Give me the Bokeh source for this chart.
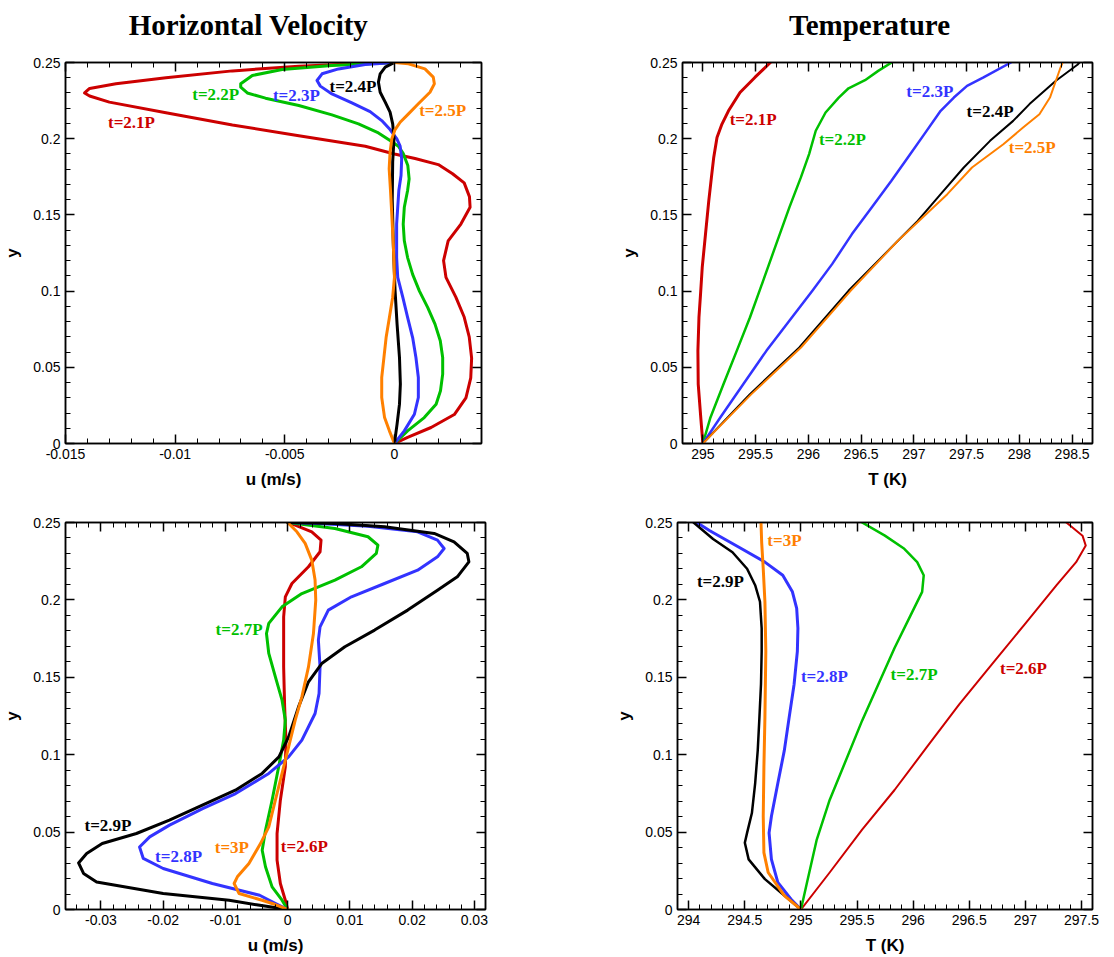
from bokeh.plotting import figure
from bokeh.layouts import column, row
from bokeh.models import (Range1d, LinearAxis, SingleIntervalTicker, CustomJSTickFormatter,
                          CustomLabelingPolicy)
from bokeh.core.properties import value
from bokeh.embed import file_html
from bokeh.resources import INLINE

RED, GREEN, BLUE, BLACK, ORANGE = "#cc0000", "#00c000", "#3333ff", "#000000", "#ff8000"

panel_titles = ["Horizontal Velocity", "Temperature"]

# ---------------- Horizontal velocity, t = 2.1P ... 2.5P ----------------
v21_y = [0, 0.004, 0.0105, 0.019, 0.03, 0.043, 0.056, 0.07, 0.083, 0.096, 0.109, 0.12, 0.133, 0.144,
         0.155, 0.162, 0.171, 0.177, 0.183, 0.187, 0.19, 0.195, 0.202, 0.209, 0.217, 0.224, 0.228, 0.230,
         0.233, 0.236, 0.240, 0.2445, 0.2476, 0.2491, 0.25]
v21_u = [0, 0.0006, 0.00167, 0.00273, 0.00326, 0.00348, 0.00352, 0.00341, 0.00318, 0.0028, 0.00235, 0.00224,
         0.00245, 0.00303, 0.00345, 0.00342, 0.00318, 0.00265, 0.002, 0.00094, 0, -0.00133, -0.00436, -0.00739,
         -0.01042, -0.013, -0.0139, -0.01413, -0.0139, -0.0127, -0.01042, -0.00739, -0.00436, -0.00179, 0]
v22_y = [0, 0.0083, 0.017, 0.0258, 0.0346, 0.0455, 0.0564, 0.0674, 0.0783, 0.0892, 0.1, 0.111, 0.122, 0.133,
         0.144, 0.155, 0.166, 0.1736, 0.1824, 0.19, 0.1951, 0.1988, 0.2038, 0.2097, 0.2156, 0.2218, 0.2266,
         0.23, 0.2338, 0.236, 0.2415, 0.2454, 0.248, 0.25]
v22_u = [0, 0.0006, 0.00136, 0.0019, 0.0021, 0.0022, 0.0022, 0.00209, 0.00185, 0.00152, 0.00114, 0.00083,
         0.0006, 0.00045, 0.0004, 0.00045, 0.0006, 0.00067, 0.00061, 0.00041, 0.00018, -0.0002, -0.00073,
         -0.00164, -0.00285, -0.00436, -0.00588, -0.00671, -0.00701, -0.00701, -0.00648, -0.00512, -0.00285, 0]
v23_y = [0, 0.0083, 0.0192, 0.0302, 0.0433, 0.0564, 0.0695, 0.0827, 0.096, 0.109, 0.122, 0.144, 0.166,
         0.1758, 0.1868, 0.1951, 0.1999, 0.206, 0.2119, 0.2178, 0.2235, 0.2294, 0.2345, 0.2382, 0.2426,
         0.2458, 0.2487, 0.25]
v23_u = [0, 0.00045, 0.00091, 0.00109, 0.00109, 0.00098, 0.00083, 0.0006, 0.00038, 0.00015, 0.0001, 0.0001,
         0.0002, 0.0003, 0.00033, 0.00026, 0.00011, -0.0002, -0.00058, -0.00111, -0.00194, -0.00285, -0.00338,
         -0.00353, -0.0033, -0.00255, -0.00133, 0]
v24_y = [0, 0.0127, 0.0258, 0.039, 0.0564, 0.0783, 0.1, 0.13, 0.16, 0.185, 0.2, 0.2097, 0.2174, 0.224,
         0.2305, 0.2371, 0.2426, 0.247, 0.25]
v24_u = [0, 0.00012, 0.00023, 0.00027, 0.00023, 0.00012, 0.00003, -0.00005, -0.0001, -0.00008, -0.00002,
         -0.00008, -0.0002, -0.00042, -0.00065, -0.00073, -0.00065, -0.00042, 0]
v25_y = [0, 0.0083, 0.017, 0.0302, 0.0433, 0.0564, 0.0695, 0.0827, 0.096, 0.109, 0.13, 0.15, 0.166, 0.1802,
         0.1911, 0.2, 0.206, 0.2108, 0.2163, 0.2229, 0.2305, 0.236, 0.2404, 0.2458, 0.2491, 0.25]
v25_u = [0, -0.00023, -0.00045, -0.00058, -0.00058, -0.00048, -0.00038, -0.00023, -0.00008, 0, -0.00005,
         -0.00012, -0.00018, -0.00024, -0.0002, -0.00012, 0.00003, 0.00026, 0.00064, 0.00109, 0.00162,
         0.00182, 0.00177, 0.00139, 0.00064, 0]

# ---------------- Temperature, t = 2.1P ... 2.5P ----------------
t21_y = [0, 0.0171, 0.039, 0.0608, 0.0827, 0.098, 0.1155, 0.1374, 0.1592, 0.1746, 0.1877, 0.2008, 0.2096,
         0.2183, 0.2303, 0.2402, 0.25]
t21_T = [295, 294.98, 294.956, 294.953, 294.963, 294.978, 294.994, 295.025, 295.056, 295.081, 295.103,
         295.134, 295.181, 295.243, 295.352, 295.493, 295.64]
t22_y = [0, 0.0171, 0.039, 0.0608, 0.0827, 0.1067, 0.1308, 0.1549, 0.1746, 0.1899, 0.2052, 0.2172, 0.227,
         0.2331, 0.2384, 0.2445, 0.25]
t22_T = [295, 295.072, 295.196, 295.321, 295.446, 295.571, 295.695, 295.82, 295.929, 296.007, 296.07,
         296.163, 296.288, 296.381, 296.537, 296.662, 296.79]
t23_y = [0, 0.0171, 0.039, 0.0608, 0.0805, 0.1002, 0.1177, 0.1374, 0.1549, 0.1724, 0.1877, 0.203, 0.2183,
         0.227, 0.2347, 0.2402, 0.25]
t23_T = [295, 295.165, 295.384, 295.602, 295.82, 296.038, 296.225, 296.413, 296.6, 296.787, 296.943,
         297.099, 297.254, 297.379, 297.504, 297.66, 297.92]
t24_y = [0, 0.0324, 0.063, 0.1002, 0.133, 0.1461, 0.1636, 0.1811, 0.1986, 0.2117, 0.2227, 0.238, 0.2485, 0.25]
t24_T = [295, 295.446, 295.914, 296.38, 296.849, 297.036, 297.254, 297.473, 297.722, 297.941, 298.096,
         298.346, 298.55, 298.57]
t25_y = [0, 0.0324, 0.063, 0.1002, 0.133, 0.1636, 0.1811, 0.1964, 0.2073, 0.2161, 0.227, 0.238, 0.2467, 0.25]
t25_T = [295, 295.46, 295.93, 296.40, 296.849, 297.317, 297.551, 297.848, 298.035, 298.19, 298.29,
         298.346, 298.39, 298.41]

# ---------------- Horizontal velocity, t = 2.6P ... 3P ----------------
v26_y = [0, 0.006, 0.0168, 0.0319, 0.0491, 0.0706, 0.0922, 0.1094, 0.1309, 0.1567, 0.1891, 0.202, 0.2106,
         0.2214, 0.2311, 0.2386, 0.244, 0.2483, 0.25]
v26_u = [0, -0.00037, -0.00117, -0.0017, -0.0017, -0.00117, -0.00037, -0.00027, -0.00048, -0.00064,
         -0.00064, -0.00037, 0.00069, 0.00335, 0.00521, 0.00537, 0.00388, 0.00122, 0]
v27_y = [0, 0.006, 0.0146, 0.0276, 0.0383, 0.0512, 0.0706, 0.0922, 0.1094, 0.1223, 0.1352, 0.1503, 0.1654,
         0.1783, 0.1848, 0.1955, 0.2041, 0.2128, 0.2214, 0.23, 0.2354, 0.2408, 0.2461, 0.2489, 0.25]
v27_u = [0, -0.0009, -0.0025, -0.00356, -0.00409, -0.00356, -0.0025, -0.00144, -0.00064, -0.00037, -0.0009,
         -0.00197, -0.00303, -0.0034, -0.00303, -0.0009, 0.00229, 0.0076, 0.01186, 0.01425, 0.01451, 0.01292,
         0.0076, 0.00229, 0]
v28_y = [0, 0.004, 0.0092, 0.0168, 0.0265, 0.033, 0.0404, 0.0469, 0.0545, 0.0652, 0.0749, 0.0879, 0.0986,
         0.1094, 0.1266, 0.1395, 0.1567, 0.174, 0.1826, 0.1934, 0.202, 0.2106, 0.2192, 0.2278, 0.2332, 0.2386,
         0.244, 0.2476, 0.2494, 0.25]
v28_u = [0, -0.002, -0.0045, -0.0121, -0.02, -0.0232, -0.0238, -0.02217, -0.01898, -0.01366, -0.00835,
         -0.00303, 0.00016, 0.00229, 0.00441, 0.00505, 0.00521, 0.00494, 0.00521, 0.00654, 0.01026, 0.01558,
         0.02089, 0.02408, 0.02515, 0.02408, 0.02089, 0.01292, 0.00494, 0]
v29_y = [0, 0.003, 0.006, 0.0103, 0.0178, 0.0233, 0.0301, 0.0362, 0.0426, 0.0491, 0.0577, 0.0674, 0.0771,
         0.0879, 0.0986, 0.1115, 0.1309, 0.1471, 0.1589, 0.1697, 0.1805, 0.1934, 0.2063, 0.2149, 0.2246, 0.23,
         0.2375, 0.2429, 0.2472, 0.2494, 0.25]
v29_u = [0, -0.005, -0.0094, -0.02, -0.0307, -0.0328, -0.0336, -0.0323, -0.0298, -0.0243, -0.019, -0.0137,
         -0.0084, -0.0041, -0.0014, 0.00016, 0.00175, 0.00335, 0.00548, 0.0092, 0.01398, 0.0193, 0.02408,
         0.02727, 0.02913, 0.02887, 0.02674, 0.02355, 0.01558, 0.0076, 0]
v30_y = [0, 0.0039, 0.006, 0.0103, 0.0168, 0.0211, 0.0297, 0.0426, 0.0534, 0.0706, 0.0879, 0.1051, 0.1223,
         0.1374, 0.1567, 0.1783, 0.1998, 0.2128, 0.2257, 0.2365, 0.244, 0.25]
v30_u = [0, -0.0025, -0.0041, -0.0078, -0.0086, -0.00808, -0.00622, -0.00436, -0.00303, -0.00197, -0.0009,
         0.00016, 0.00122, 0.00229, 0.00335, 0.00415, 0.00452, 0.00441, 0.00388, 0.00282, 0.00149, 0]

# ---------------- Temperature, t = 2.6P ... 3P ----------------
t26_y = [0, 0.0239, 0.0516, 0.0772, 0.105, 0.1327, 0.1583, 0.1839, 0.2095, 0.2244, 0.2351, 0.2415, 0.25]
t26_T = [295, 295.256, 295.545, 295.834, 296.123, 296.412, 296.701, 296.99, 297.278, 297.452, 297.538,
         297.509, 297.365]
t27_y = [0, 0.0175, 0.0452, 0.0708, 0.0964, 0.122, 0.1455, 0.1689, 0.1903, 0.2052, 0.2159, 0.2244, 0.233,
         0.2415, 0.25]
t27_T = [295, 295.054, 295.141, 295.256, 295.401, 295.545, 295.69, 295.834, 295.979, 296.08, 296.094,
         296.036, 295.921, 295.748, 295.545]
t28_y = [0, 0.0068, 0.0175, 0.0324, 0.0495, 0.0602, 0.0815, 0.1028, 0.1241, 0.1455, 0.1668, 0.1817, 0.1945,
         0.2052, 0.2159, 0.2244, 0.234, 0.2447, 0.25]
t28_T = [295, 294.91, 294.794, 294.737, 294.716, 294.737, 294.794, 294.852, 294.895, 294.939, 294.968,
         294.973, 294.962, 294.924, 294.838, 294.679, 294.448, 294.188, 294.072]
t29_y = [0, 0.009, 0.0196, 0.0324, 0.0431, 0.0495, 0.0623, 0.0815, 0.1028, 0.1241, 0.1455, 0.1668, 0.1817,
         0.1988, 0.2095, 0.2201, 0.2308, 0.2393, 0.25]
t29_T = [295, 294.852, 294.679, 294.534, 294.5, 294.52, 294.563, 294.592, 294.615, 294.63, 294.644, 294.65,
         294.65, 294.635, 294.592, 294.52, 294.39, 294.217, 294.043]
t30_y = [0, 0.009, 0.0239, 0.0367, 0.0602, 0.0922, 0.1241, 0.1668, 0.1988, 0.2201, 0.2372, 0.25]
t30_T = [295, 294.852, 294.708, 294.67, 294.664, 294.67, 294.679, 294.687, 294.679, 294.664, 294.65, 294.644]

# ---------------- curve labels ----------------
lab_tl_text = ["t=2.1P", "t=2.2P", "t=2.3P", "t=2.4P", "t=2.5P"]
lab_tl_x = [-0.01199, -0.00815, -0.00447, -0.00189, 0.0022]
lab_tl_y = [0.2104, 0.2288, 0.2285, 0.2344, 0.2183]
lab_tr_x = [295.477, 296.323, 297.151, 297.722, 298.122]
lab_tr_y = [0.2124, 0.1997, 0.2312, 0.218, 0.194]
lab_bot_text = ["t=2.6P", "t=2.7P", "t=2.8P", "t=2.9P", "t=3P"]
lab_bl_x = [0.00268, -0.00781, -0.01753, -0.02887, -0.00896]
lab_bl_y = [0.0409, 0.1812, 0.034, 0.0541, 0.04]
lab_br_x = [296.983, 296.008, 295.209, 294.282, 294.853]
lab_br_y = [0.1559, 0.1521, 0.1508, 0.2118, 0.2383]

FMT = "return (Math.round(tick*100000)/100000).toString();"
NO_LABELS = "for (const i of Array.from(indices)) { indices.unset(i) }\nreturn indices"

HEADER_H = 48


def make_fig(width, height, borders, xr, xint, xlabel):
    left, right, top, bottom = borders
    p = figure(width=width, height=height, x_range=Range1d(*xr), y_range=Range1d(0, 0.25),
               output_backend="svg", toolbar_location=None,
               min_border_left=left, min_border_right=right, min_border_top=top, min_border_bottom=bottom)
    p.xgrid.visible = False
    p.ygrid.visible = False
    p.outline_line_color = "black"
    p.outline_line_width = 1.5
    p.background_fill_color = "white"
    p.border_fill_color = "white"
    for ax, tick in ((p.xaxis[0], xint), (p.yaxis[0], 0.05)):
        ax.ticker = SingleIntervalTicker(interval=tick, num_minor_ticks=5)
        ax.formatter = CustomJSTickFormatter(code=FMT)
        ax.major_tick_in = 9
        ax.major_tick_out = 0
        ax.minor_tick_in = 5
        ax.minor_tick_out = 0
        ax.axis_line_width = 1.5
        ax.major_tick_line_width = 1.5
        ax.minor_tick_line_width = 1
        ax.major_label_text_font = "Liberation Sans"
        ax.major_label_text_font_size = "14px"
        ax.major_label_text_color = "black"
        ax.major_label_standoff = 5
        ax.axis_label_text_font = "Liberation Sans"
        ax.axis_label_text_font_size = "17px"
        ax.axis_label_text_font_style = "bold"
        ax.axis_label_text_color = "black"
        ax.axis_label_standoff = 8
    p.xaxis[0].axis_label = xlabel
    p.yaxis[0].axis_label = "y"
    for side, tick in (("above", xint), ("right", 0.05)):
        ax = LinearAxis(ticker=SingleIntervalTicker(interval=tick, num_minor_ticks=5),
                        major_label_policy=CustomLabelingPolicy(code=NO_LABELS),
                        major_label_text_font_size="10px", major_label_standoff=0,
                        major_tick_in=9, major_tick_out=0, minor_tick_in=5, minor_tick_out=0,
                        axis_line_width=1.5, major_tick_line_width=1.5, minor_tick_line_width=1)
        p.add_layout(ax, side)
    return p


def add_curves(p, xs, ys, colors, widths):
    for x, y, c, w in zip(xs, ys, colors, widths):
        p.line(x, y, line_color=c, line_width=w, line_join="round", line_cap="round")


def add_labels(p, xs, ys, texts, colors):
    for x, y, t, c in zip(xs, ys, texts, colors):
        p.text(x=[x], y=[y], text=[t], text_color=c, text_font=value("Liberation Serif"),
               text_font_style="bold", text_font_size="17px", text_align="center", text_baseline="middle")


# header strip holding the two panel titles (pixel coordinates of the page)
header = figure(width=1114, height=HEADER_H, x_range=Range1d(0, 1114), y_range=Range1d(0, HEADER_H),
                output_backend="svg", toolbar_location=None, x_axis_type=None, y_axis_type=None,
                min_border=0, min_border_left=0, min_border_right=0, min_border_top=0, min_border_bottom=0)
header.outline_line_color = None
header.xgrid.visible = False
header.ygrid.visible = False
header.text(x=[248, 869], y=[HEADER_H - 24, HEADER_H - 24], text=panel_titles, text_color="black",
            text_font=value("Liberation Serif"), text_font_style="bold", text_font_size="29px",
            text_align="center", text_baseline="middle")

top_colors = [RED, GREEN, BLUE, BLACK, ORANGE]
bot_colors = [RED, GREEN, BLUE, BLACK, ORANGE]

tl = make_fig(600, 495 - HEADER_H, (64, 119, 62 - HEADER_H, 52), (-0.015, 0.00397), 0.005, "u (m/s)")
add_curves(tl, [v21_u, v22_u, v23_u, v24_u, v25_u], [v21_y, v22_y, v23_y, v24_y, v25_y],
           top_colors, [3, 3, 3, 3, 3])
add_labels(tl, lab_tl_x, lab_tl_y, lab_tl_text, top_colors)

tr = make_fig(514, 495 - HEADER_H, (82, 16, 62 - HEADER_H, 52), (294.807, 298.693), 0.5, "T (K)")
add_curves(tr, [t21_T, t22_T, t23_T, t24_T, t25_T], [t21_y, t22_y, t23_y, t24_y, t25_y],
           top_colors, [3, 2.5, 2.5, 2, 2])
add_labels(tr, lab_tr_x, lab_tr_y, lab_tl_text, top_colors)

bl = make_fig(600, 462, (62, 115, 27, 48), (-0.0357, 0.0318), 0.01, "u (m/s)")
add_curves(bl, [v26_u, v27_u, v28_u, v29_u, v30_u], [v26_y, v27_y, v28_y, v29_y, v30_y],
           bot_colors, [3, 3, 3, 3, 3])
add_labels(bl, lab_bl_x, lab_bl_y, lab_bot_text, bot_colors)

br = make_fig(514, 462, (77, 10, 25, 46), (293.9, 297.598), 0.5, "T (K)")
add_curves(br, [t26_T, t27_T, t28_T, t29_T, t30_T], [t26_y, t27_y, t28_y, t29_y, t30_y],
           bot_colors, [2, 2.5, 3, 2.5, 3])
add_labels(br, lab_br_x, lab_br_y, lab_bot_text, bot_colors)

layout = column(header, row(tl, tr), row(bl, br))
open("out.html", "w").write(file_html(layout, INLINE))
